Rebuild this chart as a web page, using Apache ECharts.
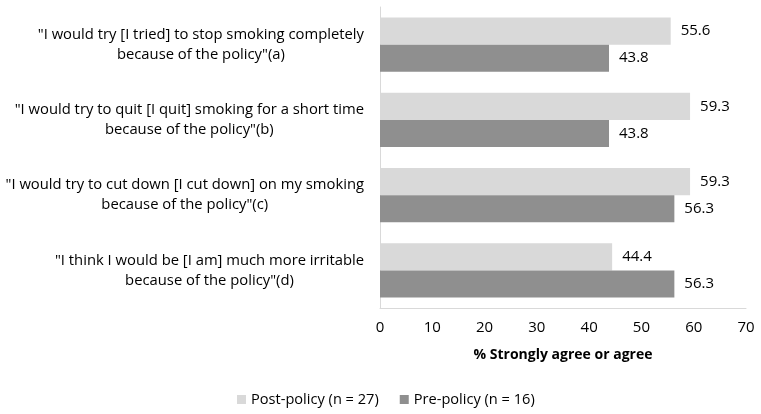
<!DOCTYPE html>
<html>
<head>
<meta charset="utf-8">
<script src="https://cdn.jsdelivr.net/npm/echarts@6/dist/echarts.min.js"></script>
<style>
  html, body { margin: 0; padding: 0; background: #fff; }
  #chart { width: 761px; height: 414px; }
</style>
</head>
<body>
<div id="chart"></div>
<script>
const categories = [
  ['"I would try [I tried] to stop smoking completely', 'because of the policy"(a)'],
  ['"I would try to quit [I quit] smoking for a short time', 'because of the policy"(b)'],
  ['"I would try to cut down [I cut down] on my smoking', 'because of the policy"(c)'],
  ['"I think I would be [I am] much more irritable', 'because of the policy"(d)'],
];
const postValues = [55.6, 59.3, 59.3, 44.4];
const preValues = [43.8, 43.8, 56.3, 56.3];
const seriesNames = ['Post-policy (n = 27)', 'Pre-policy (n = 16)'];

const font = 'Open Sans';
const chart = echarts.init(document.getElementById('chart'));

const valueLabel = {
  show: true,
  position: 'right',
  distance: 10,
  color: '#000',
  fontFamily: font,
  fontSize: 15,
  formatter: p => p.value.toFixed(1),
};

chart.setOption({
  animation: false,
  textStyle: { fontFamily: font },
  grid: { left: 380, right: 15, top: 7, bottom: 106, outerBoundsMode: 'none' },
  legend: {
    bottom: 2,
    left: 232,
    itemWidth: 9,
    itemHeight: 9,
    itemGap: 21,
    icon: 'rect',
    textStyle: { fontFamily: font, fontSize: 14.6, color: '#000' },
    data: seriesNames,
  },
  xAxis: {
    type: 'value',
    min: 0,
    max: 70,
    interval: 10,
    name: '% Strongly agree or agree',
    nameLocation: 'middle',
    nameGap: 40,
    nameTextStyle: { fontFamily: font, fontSize: 14, fontWeight: 'bold', color: '#000' },
    axisLine: { show: true, lineStyle: { color: '#d9d9d9' } },
    axisTick: { show: false },
    splitLine: { show: false },
    axisLabel: { margin: 12, fontFamily: font, fontSize: 15, color: '#000' },
  },
  yAxis: {
    type: 'category',
    inverse: true,
    data: categories.map(c => c.join('\n')),
    axisLine: { show: true, lineStyle: { color: '#d9d9d9' } },
    axisTick: { show: false },
    axisLabel: {
      margin: 16,
      align: 'right',
      formatter: v => v.split('\n').map(l => '{c|' + l + '}').join('\n'),
      rich: {
        c: { align: 'center', fontFamily: font, fontSize: 14.8, lineHeight: 20, color: '#000' },
      },
    },
  },
  series: [
    {
      name: seriesNames[0],
      type: 'bar',
      data: postValues,
      itemStyle: { color: '#d9d9d9' },
      barGap: '0%',
      barCategoryGap: '28%',
      label: valueLabel,
    },
    {
      name: seriesNames[1],
      type: 'bar',
      data: preValues,
      itemStyle: { color: '#8f8f8f' },
      label: valueLabel,
    },
  ],
});
</script>
</body>
</html>
